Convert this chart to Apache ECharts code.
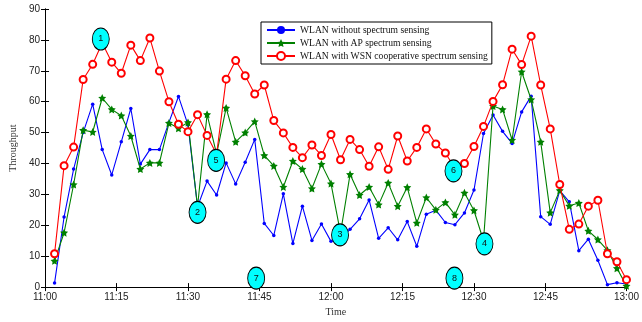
<!DOCTYPE html>
<html>
<head>
<meta charset="utf-8">
<script src="https://cdn.jsdelivr.net/npm/echarts@6/dist/echarts.min.js"></script>
<style>
  html, body { margin: 0; padding: 0; background: #fff; }
  #chart { width: 642px; height: 322px; }
</style>
</head>
<body>
<div id="chart"></div>
<script>
// minutes after 11:00 for every sample
const minutes = [2, 4, 6, 8, 10, 12, 14, 16, 18, 20, 22, 24, 26, 28, 30, 32, 34, 36, 38, 40,
  42, 44, 46, 48, 50, 52, 54, 56, 58, 60, 62, 64, 66, 68, 70, 72, 74, 76, 78, 80,
  82, 84, 86, 88, 90, 92, 94, 96, 98, 100, 102, 104, 106, 108, 110, 112, 114, 116, 118, 120, 122]

const tickMinutes = [0, 15, 30, 45, 60, 75, 90, 105, 122]
const tickLabels = ['11:00', '11:15', '11:30', '11:45', '12:00', '12:15', '12:30', '12:45', '13:00']

const legends = ['WLAN without spectrum sensing', 'WLAN with AP spectrum sensing', 'WLAN with WSN cooperative spectrum sensing']

const noSensing = [1.3, 22.7, 38.2, 50.0, 59.2, 44.5, 36.3, 47.0, 57.8, 39.8,
  44.5, 44.5, 53.3, 61.7, 52.5, 26, 34.3, 29.8, 40.2, 33.4,
  40.4, 47.8, 20.6, 16.7, 30.2, 14.1, 26.2, 15.1, 20.4, 14.8,
  15.5, 18.7, 22.1, 28.2, 15.8, 19.2, 15.3, 21.2, 13.2, 23.6,
  24.9, 20.9, 20.2, 24.0, 31.4, 49.7, 55.7, 50.4, 46.5, 56.7,
  61.8, 22.8, 20.3, 31.2, 27.6, 11.8, 15.5, 8.7, 0.8, 1.4, 1.0]

const apSensing = [8.5, 17.6, 33.2, 50.8, 50.2, 61.2, 57.5, 55.5, 48.9, 38.2,
  40.2, 40.2, 53.1, 51.4, 53.3, 26, 55.9, 43, 58.0, 47.0,
  50.0, 53.6, 42.6, 39.2, 32.4, 40.8, 38.2, 31.9, 39.8, 33.5,
  17.5, 36.5, 29.8, 32.4, 26.7, 33.7, 26.2, 32.3, 20.8, 29.0,
  25.0, 27.4, 23.4, 30.5, 24.8, 15, 58.6, 57.5, 47.6, 69.7,
  60.7, 47.0, 24.1, 31.3, 26.3, 27.2, 18.2, 15.4, 11.9, 6.1, 0.4]

const wsnSensing = [10.8, 39.3, 45.3, 67.2, 72.1, 79, 72.8, 69.2, 78.3, 73.3,
  80.6, 69.9, 60.0, 52.7, 50.3, 55.8, 49.1, 43, 67.3, 73.3,
  68.4, 62.5, 65.4, 53.9, 49.9, 45.2, 41.9, 46.0, 42.6, 49.4,
  41.2, 47.8, 44.5, 39.1, 45.4, 38.1, 48.9, 40.8, 45.2, 51.2,
  46.3, 43.4, 38.5, 40.0, 45.5, 52.0, 60.1, 65.5, 77.0, 72.0,
  81.2, 65.4, 51.2, 33.2, 18.7, 20.4, 26.2, 28.1, 10.8, 8.2, 2.4]

// numbered callouts on the plot
const calloutNames = ['1', '2', '3', '4', '5', '6', '7', '8']
const calloutX = [11.7, 32.0, 61.9, 92.2, 35.9, 85.7, 44.3, 85.9]
const calloutY = [80.3, 24.2, 16.9, 14.0, 41.0, 37.6, 2.9, 2.9]

const star = 'path://M0,-10 L2.9,-4 L9.5,-3.1 L4.7,1.5 L5.9,8.1 L0,5 L-5.9,8.1 L-4.7,1.5 L-9.5,-3.1 L-2.9,-4 Z'

const pairs = (vals) => vals.map((v, i) => [minutes[i], v])

const axisLine = { show: true, lineStyle: { color: '#000', width: 1 } }

const xBase = {
  type: 'value',
  min: 0,
  max: 122,
  axisLine: axisLine,
  splitLine: { show: false },
  axisTick: { show: true, inside: true, length: 4, customValues: tickMinutes, lineStyle: { color: '#000' } },
}

const yBase = {
  type: 'value',
  min: 0,
  max: 90,
  interval: 10,
  axisLine: axisLine,
  splitLine: { show: false },
  axisTick: { show: true, inside: true, length: 4, lineStyle: { color: '#000' } },
}

const option = {
  backgroundColor: '#fff',
  animation: false,
  color: ['#0000ff', '#008000', '#ff0000'],
  grid: { left: 41, right: 5, top: 9, bottom: 27 },
  legend: {
    data: legends,
    orient: 'vertical',
    left: 261,
    top: 22,
    padding: [3, 4, 3, 5],
    itemGap: 3,
    itemWidth: 28,
    itemHeight: 10,
    borderColor: '#000',
    borderWidth: 1,
    backgroundColor: '#fff',
    textStyle: { fontFamily: 'Liberation Serif', fontSize: 9.6, color: '#111', lineHeight: 10 },
  },
  xAxis: [
    {
      ...xBase,
      position: 'bottom',
      name: 'Time',
      nameLocation: 'middle',
      nameGap: 18,
      nameTextStyle: { fontFamily: 'Liberation Serif', fontSize: 10, color: '#333' },
      axisLabel: {
        show: true,
        margin: 5,
        fontFamily: 'Liberation Sans',
        fontSize: 10,
        color: '#222',
        customValues: tickMinutes,
        formatter: (v) => tickLabels[tickMinutes.indexOf(v)] || '',
      },
    },
    { ...xBase, position: 'top', axisLabel: { show: false } },
  ],
  yAxis: [
    {
      ...yBase,
      position: 'left',
      name: 'Throughput',
      nameLocation: 'middle',
      nameGap: 13,
      nameTextStyle: { fontFamily: 'Liberation Serif', fontSize: 10, color: '#333' },
      axisLabel: { margin: 5, fontFamily: 'Liberation Sans', fontSize: 10, color: '#222' },
    },
    { ...yBase, position: 'right', axisLabel: { show: false } },
  ],
  series: [
    {
      name: legends[0],
      type: 'line',
      data: pairs(noSensing),
      symbol: 'circle',
      symbolSize: 3.5,
      lineStyle: { width: 1.1 },
      z: 3,
    },
    {
      name: legends[1],
      type: 'line',
      data: pairs(apSensing),
      symbol: star,
      symbolSize: 8,
      lineStyle: { width: 1.1 },
      z: 4,
    },
    {
      name: legends[2],
      type: 'line',
      data: pairs(wsnSensing),
      symbol: 'emptyCircle',
      symbolSize: 7,
      itemStyle: { borderWidth: 1 },
      lineStyle: { width: 1.1 },
      z: 5,
    },
    {
      name: 'callouts',
      type: 'scatter',
      data: calloutNames.map((n, i) => ({ name: n, value: [calloutX[i], calloutY[i]] })),
      symbol: 'circle',
      symbolSize: [17, 22],
      itemStyle: { color: '#00ffff', borderColor: '#000', borderWidth: 1, opacity: 1 },
      label: {
        show: true,
        position: 'inside',
        formatter: (p) => p.name,
        fontFamily: 'Liberation Sans',
        fontSize: 9,
        color: '#111',
      },
      z: 10,
    },
  ],
};

const myChart = echarts.init(document.getElementById('chart'))
myChart.setOption(option)
</script>
</body>
</html>
